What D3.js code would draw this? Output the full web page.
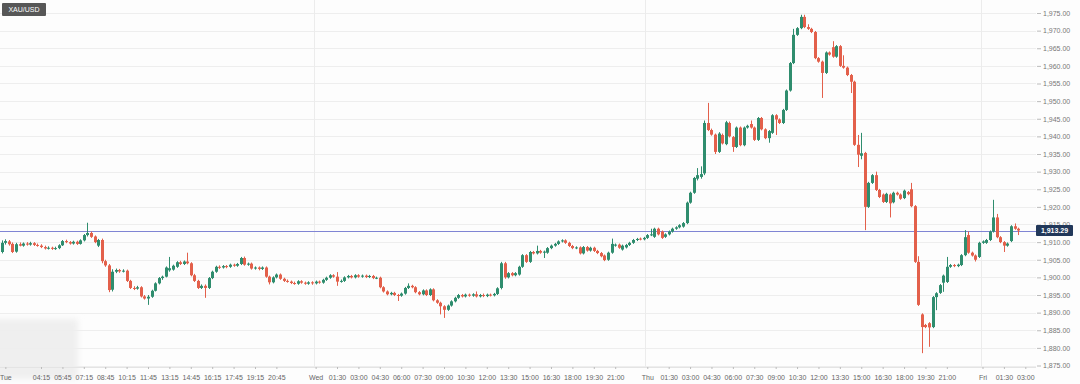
<!DOCTYPE html>
<html>
<head>
<meta charset="utf-8">
<script src="https://cdn.jsdelivr.net/npm/d3@7"></script>
<style>
body{margin:0;background:#fdfdfd;}
svg{display:block;font-family:"Liberation Sans",Arial,sans-serif;}
</style>
</head>
<body>
<script>
// XAU/USD, 15 minute candles, Tue -> Fri
const symbol = "XAU/USD";
const lastPrice = 1913.29;
const priceTicks = [1875,1880,1885,1890,1895,1900,1905,1910,1915,1920,1925,1930,1935,1940,1945,1950,1955,1960,1965,1970,1975];

// slot number (candle count from the left) and the label under it
const timeSlots = [1,11,17,23,29,35,41,47,53,59,65,71,77,
  88,94,100,106,112,118,124,130,136,142,148,154,160,166,172,
  181,187,193,199,205,211,217,223,229,235,241,247,253,259,265,
  275,281,287];
const timeLabels = ["Tue","04:15","05:45","07:15","08:45","10:15","11:45","13:15","14:45","16:15","17:45","19:15","20:45",
  "Wed","01:30","03:00","04:30","06:00","07:30","09:00","10:30","12:00","13:30","15:00","16:30","18:00","19:30","21:00",
  "Thu","01:30","03:00","04:30","06:00","07:30","09:00","10:30","12:00","13:30","15:00","16:30","18:00","19:30","21:00",
  "Fri","01:30","03:00"];
const dayStartSlots = [88,181,275];

// [open, high, low, close]
const tueBars = [
[1907.2,1910.5,1906.8,1909.8],[1909.8,1910.8,1909.3,1910.3],[1910.2,1910.6,1909.0,1909.4],[1909.5,1909.9,1906.9,1907.2],
[1907.3,1909.8,1907.0,1909.4],[1909.4,1909.9,1908.8,1909.0],[1909.0,1909.9,1908.7,1909.6],[1909.6,1910.0,1909.0,1909.3],
[1909.3,1910.1,1909.0,1909.7],[1909.7,1910.0,1908.9,1909.2],[1909.2,1909.6,1908.7,1909.0],[1909.0,1909.4,1908.3,1908.6],
[1908.6,1909.0,1907.9,1908.2],[1908.2,1908.8,1907.9,1908.4],[1908.4,1908.7,1907.8,1908.1],[1908.1,1908.7,1907.8,1908.3],
[1908.3,1909.4,1908.0,1909.1],[1909.1,1910.6,1908.9,1910.3],[1910.3,1910.7,1909.7,1910.0],[1910.0,1910.3,1909.3,1909.6],
[1909.6,1910.4,1909.3,1910.1],[1910.1,1910.4,1909.2,1909.5],[1909.5,1910.8,1909.3,1910.5],[1910.5,1912.3,1910.2,1912.0],
[1912.0,1915.5,1911.6,1912.6],[1912.6,1913.0,1911.2,1911.5],[1911.6,1911.9,1909.7,1910.0],[1909.0,1910.9,1908.6,1910.6],
[1910.6,1911.0,1904.0,1904.6],[1904.6,1905.0,1903.0,1903.4],[1903.4,1903.8,1895.8,1896.4],[1896.5,1902.3,1896.0,1901.6],
[1901.6,1902.5,1901.2,1902.1],[1902.1,1902.4,1901.3,1901.7],[1901.7,1902.3,1901.4,1901.9],[1901.9,1902.2,1898.7,1899.0],
[1899.0,1899.3,1896.7,1897.0],[1897.0,1897.5,1896.4,1896.8],[1896.8,1897.6,1896.5,1897.2],[1897.2,1897.5,1894.3,1894.6],
[1894.6,1895.0,1893.7,1894.0],[1894.0,1895.0,1892.2,1894.5],[1894.5,1896.5,1894.2,1896.2],[1896.2,1898.6,1896.0,1898.3],
[1898.3,1900.1,1898.0,1899.8],[1899.8,1900.5,1899.3,1900.2],[1900.2,1903.1,1900.0,1902.8],[1902.0,1905.8,1901.6,1902.6],
[1902.2,1903.6,1901.9,1903.3],[1903.0,1904.6,1902.7,1904.3],[1904.3,1904.7,1903.5,1903.8],[1903.8,1904.8,1903.5,1904.5],
[1904.5,1907.0,1903.7,1904.0],[1904.0,1904.3,1900.3,1900.6],[1900.6,1901.0,1898.7,1899.0],[1899.0,1899.3,1896.7,1897.0],
[1897.0,1898.0,1896.7,1897.6],[1897.6,1898.0,1894.2,1897.0],[1897.0,1900.1,1896.7,1899.8],[1899.8,1901.9,1899.5,1901.6],
[1901.6,1903.3,1901.3,1903.0],[1903.0,1903.4,1902.4,1902.8],[1902.8,1903.5,1902.5,1903.2],[1903.2,1903.5,1902.6,1903.0],
[1903.0,1903.9,1902.7,1903.6],[1903.6,1903.9,1903.0,1903.3],[1903.3,1904.1,1903.0,1903.8],[1903.8,1905.8,1903.5,1905.5],
[1905.5,1905.9,1903.3,1903.6],[1903.6,1904.2,1903.3,1903.9],[1903.9,1904.2,1902.2,1902.5],[1902.5,1903.1,1902.2,1902.8],
[1902.8,1903.1,1902.0,1902.4],[1902.4,1903.1,1902.1,1902.8],[1902.8,1903.1,1899.9,1900.2],[1900.2,1900.5,1898.0,1898.6],
[1898.6,1900.3,1898.3,1900.0],[1900.0,1901.1,1899.7,1900.8],[1900.8,1901.1,1899.3,1899.6],[1899.6,1899.9,1898.7,1899.0],
[1899.0,1899.4,1898.5,1898.8],[1898.8,1899.1,1898.1,1898.4],[1898.4,1898.8,1897.9,1898.2],[1898.2,1899.2,1897.9,1898.9],
[1898.9,1899.2,1898.2,1898.5],[1898.5,1898.8,1897.9,1898.2],[1898.2,1898.9,1897.9,1898.6],[1898.6,1898.9,1897.9,1898.3]
];
const wedBars = [
[1898.3,1899.1,1898.0,1898.8],[1898.8,1899.1,1898.2,1898.5],[1898.5,1899.6,1898.2,1899.3],[1899.3,1900.2,1899.0,1899.9],
[1899.9,1900.9,1899.6,1900.6],[1900.6,1900.9,1899.9,1900.2],[1900.2,1901.5,1897.6,1898.8],[1898.8,1899.4,1898.5,1899.0],
[1899.0,1900.3,1898.7,1900.0],[1900.0,1900.7,1899.7,1900.4],[1900.4,1900.7,1899.7,1900.0],[1900.0,1900.9,1899.7,1900.6],
[1900.6,1900.9,1899.9,1900.2],[1900.2,1900.8,1899.9,1900.5],[1900.5,1900.8,1899.8,1900.1],[1900.1,1900.7,1899.8,1900.4],
[1900.4,1900.7,1899.5,1899.8],[1899.8,1900.2,1899.5,1899.9],[1899.9,1900.2,1896.9,1897.2],[1897.2,1897.5,1895.7,1896.0],
[1896.0,1896.3,1894.9,1895.2],[1895.2,1895.9,1894.9,1895.6],[1895.6,1895.9,1894.7,1895.0],[1895.0,1895.3,1893.3,1894.8],
[1894.8,1895.7,1894.5,1895.4],[1895.4,1897.3,1895.1,1897.0],[1897.0,1898.3,1896.7,1897.6],[1897.6,1897.9,1896.9,1897.2],
[1897.2,1897.5,1895.5,1895.8],[1895.8,1896.1,1894.9,1895.2],[1895.2,1896.6,1894.9,1896.3],[1896.3,1896.6,1894.7,1895.0],
[1895.0,1896.9,1894.7,1896.6],[1896.6,1896.9,1893.2,1893.5],[1893.5,1893.8,1892.5,1892.8],[1892.8,1893.1,1889.5,1891.8],
[1891.8,1892.1,1888.5,1890.8],[1890.8,1892.3,1890.5,1892.0],[1892.0,1893.5,1891.7,1893.2],[1893.2,1894.5,1892.9,1894.2],
[1894.2,1895.3,1893.9,1895.0],[1895.0,1895.3,1894.3,1894.6],[1894.6,1895.4,1894.3,1895.1],[1895.1,1895.4,1894.5,1894.8],
[1894.8,1895.5,1894.5,1895.2],[1895.2,1896.0,1894.3,1894.6],[1894.6,1895.3,1894.3,1895.0],[1895.0,1895.4,1894.4,1894.7],
[1894.7,1895.4,1894.4,1895.1],[1895.1,1895.4,1894.6,1894.9],[1894.9,1895.6,1894.6,1895.3],[1895.3,1897.2,1895.0,1896.9],
[1897.0,1904.4,1896.6,1904.0],[1904.0,1904.4,1899.6,1900.0],[1900.0,1901.5,1899.7,1901.2],[1901.2,1901.5,1900.3,1900.6],
[1900.6,1901.5,1900.3,1901.2],[1900.8,1903.3,1900.5,1903.0],[1903.0,1906.6,1902.7,1906.3],[1906.3,1906.6,1904.1,1904.4],
[1904.4,1907.5,1904.1,1907.2],[1907.2,1907.5,1906.5,1906.8],[1906.8,1909.0,1906.5,1907.5],[1907.5,1907.8,1906.7,1907.0],
[1907.0,1907.6,1905.5,1907.3],[1907.0,1908.6,1906.7,1908.3],[1908.3,1909.3,1908.0,1909.0],[1909.0,1909.8,1908.7,1909.5],
[1909.5,1910.5,1909.2,1910.2],[1910.2,1910.8,1909.9,1910.5],[1910.5,1910.8,1909.5,1909.8],[1909.8,1910.1,1908.6,1908.9],
[1908.9,1909.2,1908.0,1908.3],[1908.3,1908.8,1908.0,1908.5],[1908.5,1908.8,1906.5,1906.8],[1906.8,1908.9,1906.5,1908.6],
[1908.6,1908.9,1907.3,1907.6],[1907.6,1908.7,1907.3,1908.4],[1908.4,1908.7,1907.2,1907.5],[1907.5,1907.8,1906.6,1906.9],
[1906.9,1907.2,1905.7,1906.0],[1906.2,1906.5,1904.6,1904.9],[1905.0,1907.3,1904.7,1907.0],[1907.0,1911.0,1906.7,1909.5],
[1909.0,1909.6,1908.7,1909.3],[1909.3,1909.6,1908.1,1908.4],[1907.9,1909.3,1907.6,1909.0],[1908.5,1909.5,1908.2,1909.2],
[1909.2,1910.1,1908.9,1909.8],[1909.8,1910.9,1909.5,1910.6],[1910.6,1911.2,1910.3,1910.9],[1911.0,1911.3,1910.5,1910.8],
[1910.8,1911.5,1910.5,1911.2]
];
const thuBars = [
[1911.2,1912.3,1910.9,1912.0],[1912.0,1913.8,1911.7,1912.2],[1911.5,1914.1,1911.2,1913.8],[1913.8,1914.1,1911.9,1912.2],
[1913.0,1913.3,1910.9,1911.2],[1911.5,1912.5,1911.2,1912.2],[1912.2,1913.3,1911.9,1913.0],[1913.0,1914.1,1912.7,1913.8],
[1913.8,1914.5,1913.5,1914.2],[1914.2,1915.1,1913.9,1914.8],[1914.4,1915.7,1914.1,1915.4],[1915.4,1921.5,1915.1,1921.2],
[1921.2,1924.3,1920.9,1924.0],[1924.0,1928.5,1923.7,1928.2],[1928.0,1931.0,1927.5,1929.0],[1928.5,1931.5,1928.0,1929.3],
[1929.5,1944.5,1929.0,1943.8],[1943.8,1949.5,1941.5,1941.8],[1941.8,1942.2,1940.2,1940.5],[1940.5,1940.8,1935.0,1935.6],
[1935.6,1941.2,1935.3,1940.8],[1940.4,1940.8,1937.7,1938.0],[1937.8,1944.4,1937.5,1944.0],[1943.8,1944.2,1939.7,1940.0],
[1939.8,1940.1,1935.6,1937.0],[1937.0,1942.8,1936.7,1942.5],[1942.5,1942.8,1937.2,1937.5],[1937.5,1942.8,1937.2,1942.5],
[1942.5,1943.3,1942.2,1943.0],[1943.5,1944.5,1942.2,1942.5],[1942.5,1942.8,1938.7,1939.0],[1939.0,1945.5,1938.7,1945.2],
[1945.2,1945.5,1941.7,1942.0],[1942.0,1942.3,1939.2,1939.5],[1939.5,1941.8,1938.2,1941.5],[1941.0,1946.3,1940.7,1946.0],
[1946.0,1946.3,1940.4,1944.8],[1944.8,1945.1,1943.5,1943.8],[1943.8,1947.8,1943.5,1947.5],[1947.5,1953.3,1947.2,1953.0],
[1953.0,1961.1,1952.7,1960.8],[1960.8,1970.5,1960.5,1968.8],[1968.8,1971.0,1968.5,1970.7],[1970.7,1974.5,1970.4,1973.9],
[1973.9,1974.5,1970.7,1971.0],[1971.0,1971.8,1970.2,1970.5],[1970.5,1970.8,1969.3,1969.6],[1969.6,1969.9,1961.9,1962.2],
[1962.2,1962.5,1960.9,1961.2],[1961.2,1961.5,1950.9,1958.0],[1958.0,1964.1,1957.7,1963.8],[1963.8,1964.1,1962.9,1963.2],
[1965.3,1967.0,1962.3,1962.6],[1962.6,1965.9,1962.3,1965.6],[1965.6,1965.9,1959.7,1960.0],[1960.0,1963.0,1959.2,1959.5],
[1959.5,1959.8,1957.1,1957.4],[1957.4,1957.7,1952.3,1955.5],[1955.5,1955.8,1937.3,1937.6],[1937.6,1940.4,1931.3,1934.8],
[1934.5,1941.0,1933.5,1935.2],[1935.3,1935.6,1913.4,1920.0],[1920.0,1927.1,1919.7,1926.8],[1926.8,1929.3,1926.5,1929.0],
[1929.0,1930.0,1924.5,1924.8],[1924.8,1925.1,1922.5,1922.8],[1923.5,1923.8,1921.1,1921.4],[1921.4,1924.0,1921.1,1923.7],
[1923.5,1923.8,1917.0,1921.0],[1921.3,1924.3,1921.0,1924.0],[1924.0,1924.3,1923.2,1923.5],[1923.5,1923.8,1922.0,1922.3],
[1922.5,1924.9,1922.2,1924.6],[1924.2,1924.5,1923.3,1923.6],[1925.0,1926.8,1919.9,1920.2],[1920.2,1920.5,1904.1,1904.4],
[1904.4,1906.0,1891.9,1892.2],[1889.5,1889.8,1878.5,1885.9],[1886.5,1886.8,1885.6,1885.9],[1887.0,1887.3,1880.3,1885.8],
[1885.9,1894.7,1885.6,1894.4],[1894.4,1895.8,1890.7,1895.5],[1895.6,1898.1,1895.3,1897.8],[1898.5,1900.8,1895.9,1900.5],
[1898.7,1905.8,1898.4,1903.0],[1903.0,1903.8,1902.7,1903.5],[1903.5,1903.8,1902.9,1903.2],[1903.2,1903.9,1902.9,1903.6],
[1903.5,1906.6,1903.2,1906.3],[1906.3,1913.4,1906.0,1911.4],[1912.0,1913.0,1906.7,1907.0],[1907.0,1907.3,1905.9,1906.2],
[1906.2,1906.5,1904.5,1905.0],[1905.8,1910.1,1905.5,1909.8]
];
const friBars = [
[1909.8,1910.5,1909.5,1910.2],[1909.8,1910.9,1909.5,1910.6],[1910.6,1913.3,1910.3,1913.0],[1913.0,1922.0,1912.7,1917.0],
[1917.0,1918.0,1911.1,1911.4],[1911.4,1911.7,1909.7,1910.0],[1910.0,1910.3,1907.2,1909.0],[1909.0,1909.9,1908.7,1909.6],
[1910.3,1914.8,1910.0,1914.5],[1914.5,1915.3,1913.5,1913.8],[1913.8,1914.1,1912.0,1913.29]
];

const bars = tueBars.concat(wedBars, thuBars, friBars);

var w = 1080, h = 384;
var plotRight = 1036, plotBottom = 367;
var up = "#2f8d6e", down = "#e3604b";

const svg = d3.select("body").append("svg")
  .attr("width", w).attr("height", h);

const defs = svg.append("defs");
defs.append("filter").attr("id", "soft")
  .attr("x", "-20%").attr("y", "-20%").attr("width", "140%").attr("height", "140%")
  .append("feGaussianBlur").attr("stdDeviation", 3);

svg.append("rect").attr("width", w).attr("height", h).attr("fill", "#fdfdfd");

const x = d3.scaleLinear().domain([-0.5, 290]).range([0, plotRight]);
const y = d3.scaleLinear().domain([1875, 1975]).range([365.5, 13]);

// faint smudge in the lower left corner of the original
svg.append("rect").attr("x", -10).attr("y", 319).attr("width", 88).attr("height", 60)
  .attr("fill", "#efefef").attr("filter", "url(#soft)");

// grid
svg.append("g").selectAll("line").data(priceTicks).enter().append("line")
  .attr("x1", 0).attr("x2", plotRight)
  .attr("y1", d => Math.round(y(d)) + 0.5).attr("y2", d => Math.round(y(d)) + 0.5)
  .attr("stroke", "#eeeeee");
svg.append("g").selectAll("line").data(dayStartSlots).enter().append("line")
  .attr("x1", d => Math.round(x(d - 0.5)) + 0.5).attr("x2", d => Math.round(x(d - 0.5)) + 0.5)
  .attr("y1", 0).attr("y2", plotBottom)
  .attr("stroke", "#ececec");

// y axis on the right
const yAxis = svg.append("g")
  .attr("transform", "translate(" + (plotRight + 1) + ",0)")
  .call(d3.axisRight(y).tickValues(priceTicks).tickFormat(d3.format(",.2f")).tickSize(4).tickPadding(2));
yAxis.select(".domain").remove();
yAxis.selectAll("line").attr("stroke", "#bbb");
yAxis.selectAll("text").attr("fill", "#777").style("font-size", "7px");

// x axis
const xAxis = svg.append("g")
  .attr("transform", "translate(0," + plotBottom + ")")
  .call(d3.axisBottom(x).tickValues(timeSlots).tickFormat((d, i) => timeLabels[i]).tickSize(2).tickPadding(6));
xAxis.select(".domain").attr("stroke", "#e4e4e4").attr("d", "M0,0.5H" + plotRight);
xAxis.selectAll("line").attr("stroke", "#bbb");
xAxis.selectAll("text").attr("fill", "#666").style("font-size", "7px");

// last price line, under the candles
svg.append("line")
  .attr("x1", 0).attr("x2", plotRight)
  .attr("y1", Math.round(y(lastPrice)) + 0.5).attr("y2", Math.round(y(lastPrice)) + 0.5)
  .attr("stroke", "#8085d4").attr("stroke-width", 1);

// candles
const candles = svg.append("g").selectAll("g").data(bars).enter().append("g");
candles.append("line")
  .attr("x1", (d, i) => Math.round(x(i)) + 0.5).attr("x2", (d, i) => Math.round(x(i)) + 0.5)
  .attr("y1", d => y(d[1])).attr("y2", d => y(d[2]))
  .attr("stroke", d => d[3] >= d[0] ? up : down).attr("stroke-width", 1);
candles.append("rect")
  .attr("x", (d, i) => Math.round(x(i)) - 1)
  .attr("width", 3)
  .attr("y", d => y(Math.max(d[0], d[3])))
  .attr("height", d => Math.max(1, Math.abs(y(d[0]) - y(d[3]))))
  .attr("fill", d => d[3] >= d[0] ? up : down);

// price tag
svg.append("rect")
  .attr("x", plotRight).attr("y", y(lastPrice) - 5.5).attr("width", 37).attr("height", 11)
  .attr("rx", 1).attr("fill", "#22385a");
svg.append("text")
  .attr("x", plotRight + 18.5).attr("y", y(lastPrice) + 2.5)
  .attr("text-anchor", "middle").attr("fill", "#fff")
  .style("font-size", "7px").style("font-weight", "bold")
  .text(d3.format(",.2f")(lastPrice));

// symbol badge
svg.append("rect").attr("x", 2).attr("y", 3).attr("width", 44).attr("height", 13)
  .attr("rx", 1).attr("fill", "#575757");
svg.append("text").attr("x", 24).attr("y", 12.3).attr("text-anchor", "middle")
  .attr("fill", "#fff").style("font-size", "7px").text(symbol);
</script>
</body>
</html>
